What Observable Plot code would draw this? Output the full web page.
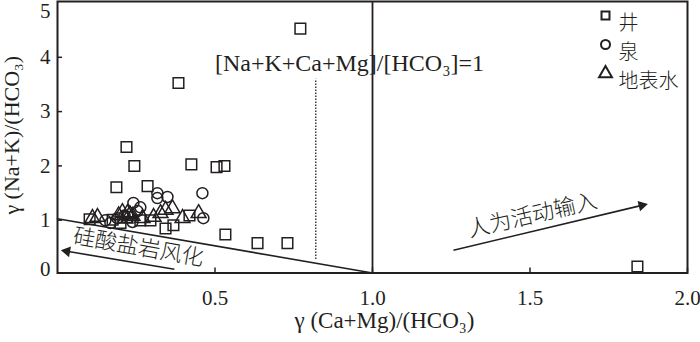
<!DOCTYPE html>
<html><head><meta charset="utf-8">
<script src="https://cdn.jsdelivr.net/npm/d3@7"></script>
<script src="https://cdn.jsdelivr.net/npm/@observablehq/plot@0.6"></script>
<style>body{margin:0;background:#fff} svg{display:block}</style>
</head><body><div id="chart"></div>
<script>
// ---- data ----
const seriesNames = ["井", "泉", "地表水"];
const wellX = [0.771,0.384,0.219,0.244,0.425,0.505,0.530,0.187,0.286,0.533,0.635,0.730,1.841,0.102,0.343,0.368,0.419,0.263,0.295,0.222,0.175,0.200];
const wellY = [4.50,3.50,2.32,1.97,2.00,1.95,1.97,1.58,1.60,0.71,0.55,0.55,0.12,0.99,0.82,0.88,1.06,0.97,0.97,1.03,0.98,0.92];
const springX = [0.317,0.349,0.317,0.460,0.241,0.263,0.254,0.152,0.190,0.238,0.463,0.168,0.213];
const springY = [1.47,1.40,1.38,1.47,1.29,1.21,1.14,0.97,1.01,0.94,1.01,0.92,1.06];
const surfX = [0.111,0.127,0.206,0.194,0.222,0.270,0.305,0.327,0.343,0.365,0.397,0.448,0.238,0.215,0.230];
const surfY = [1.01,1.03,1.12,1.06,1.10,1.01,1.03,1.10,1.16,1.19,1.01,1.10,1.05,1.00,1.08];
const xTicks = [0.5, 1.0, 1.5, 2.0];
const yTicks = [0, 1, 2, 3, 4, 5];
const xTitle = "γ (Ca+Mg)/(HCO₃)";
const yTitle = "γ (Na+K)/(HCO₃)";
// reference lines
const silicateLine = [{x: 0, y: 1}, {x: 1, y: 0}];
const ratioRule = [1];
const dottedRule = [{x: 0.82, y1: 0.25, y2: 3.57}];
// annotations
const formulaNote = [{x: 0.927, y: 3.87, text: "[Na+K+Ca+Mg]/[HCO₃]=1"}];
const arrowNotes = [
  {x1: 0.371, y1: 0.07, x2: 0.030, y2: 0.40, text: "硅酸盐岩风化", tx: 0.257, ty: 0.47},
  {x1: 1.257, y1: 0.42, x2: 1.855, y2: 1.245, text: "人为活动输入", tx: 1.508, ty: 1.06}
];

const toRows = (xs, ys) => xs.map((x, i) => ({x, y: ys[i]}));
const wells = toRows(wellX, wellY), springs = toRows(springX, springY), surf = toRows(surfX, surfY);

const ink = "#231f20";
const serif = "'Liberation Serif', 'Times New Roman', serif";
const cjk = "'Noto Sans CJK SC', sans-serif";
const fmtY = d3.format("d");

const chart = Plot.plot({
  width: 700, height: 342,
  marginLeft: 57, marginRight: 13, marginTop: 1, marginBottom: 69.5,
  style: {fontFamily: serif, color: ink, background: "#fff"},
  x: {domain: [0, 2]},
  y: {domain: [0, 5]},
  marks: [
    Plot.axisX({ticks: xTicks, tickFormat: d3.format(".1f"), tickSize: -5, tickPadding: 22, fontSize: 21, label: null, stroke: ink, strokeWidth: 1.5}),
    Plot.axisY({ticks: yTicks.filter(d => d > 0 && d < 5), tickFormat: fmtY, tickSize: -5, tickPadding: 12, fontSize: 21, label: null, stroke: ink, strokeWidth: 1.5, dy: 1.5}),
    Plot.axisY({ticks: yTicks.filter(d => d === 0), tickFormat: fmtY, tickSize: 0, tickPadding: 7, fontSize: 21, label: null, dy: -4}),
    Plot.axisY({ticks: yTicks.filter(d => d === 5), tickFormat: fmtY, tickSize: 0, tickPadding: 7, fontSize: 21, label: null, dy: 10}),
    Plot.text([xTitle], {frameAnchor: "bottom", textAnchor: "middle", dx: 12, dy: 55, fontSize: 23, fill: ink, text: d => d}),
    Plot.text([yTitle], {frameAnchor: "left", textAnchor: "middle", dx: -46, dy: -2, rotate: -90, fontSize: 22, fill: ink, text: d => d}),
    Plot.line(silicateLine, {x: "x", y: "y", stroke: ink, strokeWidth: 1.6}),
    Plot.ruleX(ratioRule, {stroke: ink, strokeWidth: 1.8}),
    Plot.ruleX(dottedRule, {x: "x", y1: "y1", y2: "y2", stroke: ink, strokeWidth: 1.3, strokeDasharray: "1.5,1.5"}),
    Plot.text(formulaNote, {x: "x", y: "y", text: "text", fontSize: 24, fill: ink}),
    Plot.link(arrowNotes, {x1: "x1", y1: "y1", x2: "x2", y2: "y2", stroke: ink, strokeWidth: 1.6}),
    Plot.dot(arrowNotes, {x: "x2", y: "y2", symbol: "triangle", r: 4, fill: ink, stroke: "none", rotate: (d, i) => i === 0 ? -80 : 76.6}),
    Plot.text(arrowNotes, {x: "tx", y: "ty", text: "text", fontFamily: cjk, fontWeight: 300, fontSize: 22, fill: ink, rotate: (d, i) => i === 0 ? 10 : -13}),
    Plot.dot(wells, {x: "x", y: "y", symbol: "square", r: 6, stroke: ink, strokeWidth: 1.5, fill: "none"}),
    Plot.dot(springs, {x: "x", y: "y", symbol: "circle", r: 5.5, stroke: ink, strokeWidth: 1.5, fill: "none"}),
    Plot.dot(surf, {x: "x", y: "y", symbol: "triangle", r: 5.5, stroke: ink, strokeWidth: 1.5, fill: "none"}),
    // legend
    Plot.dot([seriesNames[0]], {frameAnchor: "top-right", dx: -82, dy: 14, symbol: "square", r: 4.5, stroke: ink, strokeWidth: 2, fill: "none"}),
    Plot.dot([seriesNames[1]], {frameAnchor: "top-right", dx: -82, dy: 43, symbol: "circle", r: 4.5, stroke: ink, strokeWidth: 2, fill: "none"}),
    Plot.dot([seriesNames[2]], {frameAnchor: "top-right", dx: -82, dy: 72, symbol: "triangle", r: 4.8, stroke: ink, strokeWidth: 2, fill: "none"}),
    Plot.text([seriesNames[0]], {frameAnchor: "top-right", dx: -69, dy: 14, text: d => d, textAnchor: "start", fontFamily: cjk, fontWeight: 300, fontSize: 20, fill: ink}),
    Plot.text([seriesNames[1]], {frameAnchor: "top-right", dx: -69, dy: 43, text: d => d, textAnchor: "start", fontFamily: cjk, fontWeight: 300, fontSize: 20, fill: ink}),
    Plot.text([seriesNames[2]], {frameAnchor: "top-right", dx: -69, dy: 72, text: d => d, textAnchor: "start", fontFamily: cjk, fontWeight: 300, fontSize: 20, fill: ink}),
    Plot.frame({stroke: ink, strokeWidth: 2})
  ]
});
document.getElementById("chart").append(chart);
</script>
</body></html>
